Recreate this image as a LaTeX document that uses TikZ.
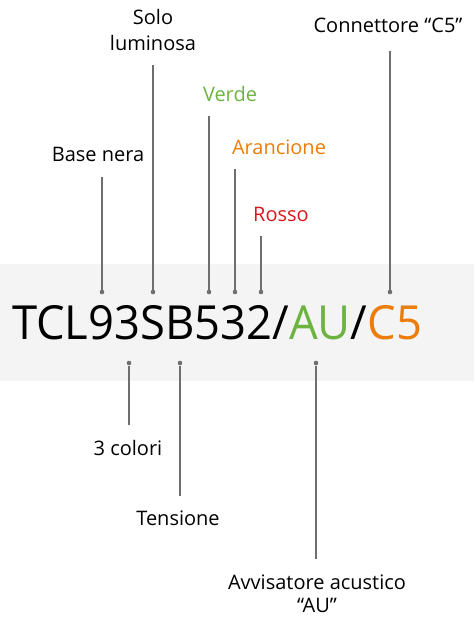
\documentclass[tikz,border=0pt]{standalone}
\usepackage{fontspec}
\setmainfont{Open Sans}
\definecolor{leadgray}{HTML}{6E6E6E}
\definecolor{bandgray}{HTML}{F4F4F4}
\definecolor{vgreen}{HTML}{6DB33F}
\definecolor{vorange}{HTML}{EC7D0A}
\definecolor{vred}{HTML}{D7191C}
\begin{document}
\begin{tikzpicture}[x=1pt,y=-1pt,
  dot/.style={circle,fill=leadgray,inner sep=0pt,minimum size=4.6pt},
  lead/.style={draw=leadgray,line width=1.3pt},
  lbl/.style={font=\fontsize{20}{26}\selectfont,inner sep=0pt,anchor=base},
  lbltwo/.style={font=\fontsize{20}{26}\selectfont,inner sep=0pt,align=center,anchor=north}
]
\useasboundingbox (0,0) rectangle (474,617);
\fill[bandgray] (0,263.5) rectangle (474,380.5);
\node[anchor=base west,inner sep=0pt,font=\fontsize{47}{50}\selectfont] (code) at (12,339)
  {\scalebox{0.965}[1]{TCL93SB532/\textcolor{vgreen}{AU}/\textcolor{vorange}{C5}}};
% top dots
\node[dot] (dbase) at (102,292) {};
\node[dot] (dsolo) at (153,292) {};
\node[dot] (dverde) at (209,292) {};
\node[dot] (daran) at (235,292) {};
\node[dot] (drosso) at (261,292) {};
\node[dot] (dconn) at (390,292) {};
% bottom dots
\node[dot] (dcol) at (129,363) {};
\node[dot] (dten) at (180,363) {};
\node[dot] (dau) at (316,363) {};
% free ends
\coordinate (ebase) at (102,177);
\coordinate (esolo) at (153,65);
\coordinate (everde) at (209,116);
\coordinate (earan) at (235,169);
\coordinate (erosso) at (261,236);
\coordinate (econn) at (390,51);
\coordinate (ecol) at (129,425);
\coordinate (eten) at (180,496);
\coordinate (eau) at (316,559);
\draw[lead] (dbase) -- (ebase);
\draw[lead] (dsolo) -- (esolo);
\draw[lead] (dverde) -- (everde);
\draw[lead] (daran) -- (earan);
\draw[lead] (drosso) -- (erosso);
\draw[lead] (dconn) -- (econn);
\draw[lead] (dcol) -- (ecol);
\draw[lead] (dten) -- (eten);
\draw[lead] (dau) -- (eau);
% labels
\node[lbl] (lbase) at (98,162) {Base nera};
\node[lbltwo] (lsolo) at (153,9) {Solo\\luminosa};
\node[lbl,text=vgreen] (lverde) at (230,102) {Verde};
\node[lbl,text=vorange] (laran) at (279,155) {Arancione};
\node[lbl,text=vred] (lrosso) at (281,222) {Rosso};
\node[lbl] (lconn) at (388,33) {Connettore “C5”};
\node[lbl] (lcol) at (128,455) {3 colori};
\node[lbl] (lten) at (178,525) {Tensione};
\node[lbltwo,font=\fontsize{20}{23}\selectfont] (lau) at (317,575) {Avvisatore acustico\\“AU”};
\end{tikzpicture}
\end{document}
